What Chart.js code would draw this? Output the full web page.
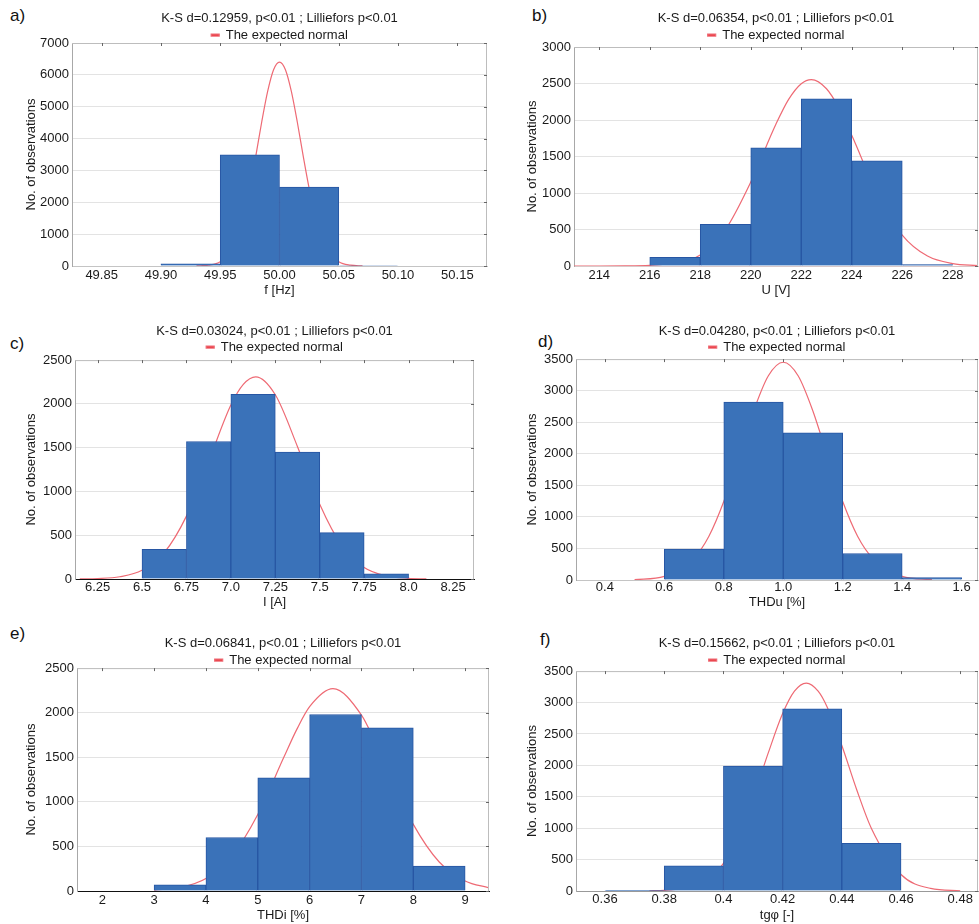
<!DOCTYPE html>
<html>
<head>
<meta charset="utf-8">
<script src="https://cdn.jsdelivr.net/npm/chart.js@4.4.1/dist/chart.umd.min.js"></script>
<style>
  html, body { margin: 0; padding: 0; background: #fff; }
  #page { position: relative; width: 979px; height: 924px; overflow: hidden; font-family: 'Liberation Sans', Arial, sans-serif; }
  .tag { position: absolute; font-size: 17px; line-height: 17px; color: #111; }
  canvas { position: absolute; }
</style>
</head>
<body>
<div id="page"></div>
<script>
// a) frequency
const aEdges = [49.85, 49.90, 49.95, 50.00, 50.05, 50.10, 50.15];
const aCounts = [0, 70, 3490, 2480, 15, 0];
const aCurveX = [49.93, 49.94, 49.95, 49.96, 49.965, 49.97, 49.975, 49.98, 49.985, 49.99, 49.995, 50.00,
                 50.005, 50.01, 50.015, 50.02, 50.025, 50.03, 50.035, 50.04, 50.05, 50.06, 50.07];
const aCurveY = [3, 25, 135, 545, 970, 1600, 2440, 3450, 4520, 5480, 6160, 6400,
                 6160, 5480, 4520, 3450, 2440, 1600, 970, 545, 135, 25, 3];
const aXTicks = [49.85, 49.90, 49.95, 50.00, 50.05, 50.10, 50.15];
const aXLabels = ['49.85', '49.90', '49.95', '50.00', '50.05', '50.10', '50.15'];
const aYTicks = [0, 1000, 2000, 3000, 4000, 5000, 6000, 7000];

// b) voltage
const bEdges = [214, 216, 218, 220, 222, 224, 226, 228];
const bCounts = [0, 120, 570, 1620, 2290, 1440, 20];
const bCurveX = [213, 214, 215, 216, 217, 218, 219, 220, 221, 221.5, 222, 222.4, 223, 223.5, 224, 225, 226, 227, 228, 229];
const bCurveY = [0, 0, 1, 9, 45, 150, 500, 1150, 1945, 2282, 2497, 2553, 2428, 2160, 1790, 1000, 424, 136, 33, 6];
const bXTicks = [214, 216, 218, 220, 222, 224, 226, 228];
const bXLabels = ['214', '216', '218', '220', '222', '224', '226', '228'];
const bYTicks = [0, 500, 1000, 1500, 2000, 2500, 3000];

// c) current
const cEdges = [6.25, 6.5, 6.75, 7.0, 7.25, 7.5, 7.75, 8.0, 8.25];
const cCounts = [0, 340, 1570, 2110, 1450, 530, 60, 0];
const cCurveX = [6.15, 6.25, 6.375, 6.5, 6.625, 6.75, 6.875, 7.0, 7.07, 7.14, 7.25, 7.375, 7.5, 7.625, 7.75, 7.875, 8.0, 8.1];
const cCurveY = [1, 5, 26, 99, 300, 718, 1343, 1986, 2223, 2309, 2104, 1511, 855, 379, 132, 36, 8, 1];
const cXTicks = [6.25, 6.5, 6.75, 7.0, 7.25, 7.5, 7.75, 8.0, 8.25];
const cXLabels = ['6.25', '6.5', '6.75', '7.0', '7.25', '7.5', '7.75', '8.0', '8.25'];
const cYTicks = [0, 500, 1000, 1500, 2000, 2500];

// d) THDu
const dEdges = [0.4, 0.6, 0.8, 1.0, 1.2, 1.4, 1.6];
const dCounts = [0, 490, 2820, 2330, 420, 40];
const dCurveX = [0.5, 0.6, 0.7, 0.75, 0.8, 0.85, 0.9, 0.95, 1.0, 1.05, 1.1, 1.15, 1.2, 1.25, 1.3, 1.4, 1.5];
const dCurveY = [6, 58, 350, 694, 1243, 1943, 2674, 3236, 3450, 3236, 2674, 1943, 1243, 694, 350, 58, 6];
const dXTicks = [0.4, 0.6, 0.8, 1.0, 1.2, 1.4, 1.6];
const dXLabels = ['0.4', '0.6', '0.8', '1.0', '1.2', '1.4', '1.6'];
const dYTicks = [0, 500, 1000, 1500, 2000, 2500, 3000, 3500];

// e) THDi
const eEdges = [2, 3, 4, 5, 6, 7, 8, 9];
const eCounts = [0, 70, 600, 1270, 1980, 1830, 280];
const eCurveX = [3.0, 3.5, 4.0, 4.5, 5.0, 5.5, 5.75, 6.0, 6.45, 7.0, 7.25, 7.5, 8.0, 8.5, 9.0, 9.46];
const eCurveY = [9, 40, 141, 391, 858, 1496, 1810, 2068, 2270, 1973, 1689, 1364, 747, 325, 113, 35];
const eXTicks = [2, 3, 4, 5, 6, 7, 8, 9];
const eXLabels = ['2', '3', '4', '5', '6', '7', '8', '9'];
const eYTicks = [0, 500, 1000, 1500, 2000, 2500];

// f) tg phi
const fEdges = [0.36, 0.38, 0.40, 0.42, 0.44, 0.46, 0.48];
const fCounts = [5, 400, 1990, 2900, 760, 0];
const fCurveX = [0.375, 0.38, 0.39, 0.40, 0.41, 0.415, 0.42, 0.424, 0.428, 0.432, 0.435, 0.44, 0.445, 0.45, 0.46, 0.47, 0.48];
const fCurveY = [3, 11, 92, 440, 1479, 2178, 2824, 3181, 3310, 3181, 2933, 2317, 1616, 996, 263, 41, 4];
const fXTicks = [0.36, 0.38, 0.40, 0.42, 0.44, 0.46, 0.48];
const fXLabels = ['0.36', '0.38', '0.4', '0.42', '0.44', '0.46', '0.48'];
const fYTicks = [0, 500, 1000, 1500, 2000, 2500, 3000, 3500];

const legendLabel = 'The expected normal';
const yTitle = 'No. of observations';

const panels = [
  { tag: 'a)', title: 'K-S d=0.12959, p<0.01 ; Lilliefors p<0.01', xTitle: 'f [Hz]',
    edges: aEdges, counts: aCounts, cx: aCurveX, cy: aCurveY, xt: aXTicks, xl: aXLabels, yt: aYTicks, xMin: 49.825, xMax: 50.175 },
  { tag: 'b)', title: 'K-S d=0.06354, p<0.01 ; Lilliefors p<0.01', xTitle: 'U [V]',
    edges: bEdges, counts: bCounts, cx: bCurveX, cy: bCurveY, xt: bXTicks, xl: bXLabels, yt: bYTicks, xMin: 213, xMax: 229 },
  { tag: 'c)', title: 'K-S d=0.03024, p<0.01 ; Lilliefors p<0.01', xTitle: 'I [A]',
    edges: cEdges, counts: cCounts, cx: cCurveX, cy: cCurveY, xt: cXTicks, xl: cXLabels, yt: cYTicks, xMin: 6.123, xMax: 8.368 },
  { tag: 'd)', title: 'K-S d=0.04280, p<0.01 ; Lilliefors p<0.01', xTitle: 'THDu [%]',
    edges: dEdges, counts: dCounts, cx: dCurveX, cy: dCurveY, xt: dXTicks, xl: dXLabels, yt: dYTicks, xMin: 0.303, xMax: 1.655 },
  { tag: 'e)', title: 'K-S d=0.06841, p<0.01 ; Lilliefors p<0.01', xTitle: 'THDi [%]',
    edges: eEdges, counts: eCounts, cx: eCurveX, cy: eCurveY, xt: eXTicks, xl: eXLabels, yt: eYTicks, xMin: 1.513, xMax: 9.46 },
  { tag: 'f)', title: 'K-S d=0.15662, p<0.01 ; Lilliefors p<0.01', xTitle: 'tg\u03c6 [-]',
    edges: fEdges, counts: fCounts, cx: fCurveX, cy: fCurveY, xt: fXTicks, xl: fXLabels, yt: fYTicks, xMin: 0.3502, xMax: 0.486 }
];

// where each panel sits on the page and how its boxes are sized
const boxes = [
  { left: 0,   top: 0,   w: 490, h: 300, tagAt: [10, 7],   pl: 20, pr: 3,  yw: 52, xh: 34, tTop: 11, tBot: 2, legH: 14.4, tickPad: 2,   xtPad: 2, axis: '#c4c4c4' },
  { left: 490, top: 0,   w: 489, h: 300, tagAt: [532, 7],  pl: 31, pr: 1,  yw: 53, xh: 34, tTop: 11, tBot: 2, legH: 18.4, tickPad: 2,   xtPad: 2, axis: '#d8c8c8' },
  { left: 0,   top: 300, w: 490, h: 310, tagAt: [10, 335], pl: 20, pr: 16, yw: 55, xh: 31, tTop: 24, tBot: 1, legH: 19.5, tickPad: 1,   xtPad: 0, axis: '#111' },
  { left: 490, top: 300, w: 489, h: 310, tagAt: [538, 333], pl: 31, pr: 1, yw: 55, xh: 30, tTop: 24, tBot: 1, legH: 18.5, tickPad: 0,   xtPad: 0, axis: '#c4c4c4' },
  { left: 0,   top: 610, w: 490, h: 314, tagAt: [10, 625], pl: 20, pr: 1,  yw: 57, xh: 33, tTop: 26, tBot: 2, legH: 14.5, tickPad: 1.5, xtPad: 1, axis: '#111' },
  { left: 490, top: 610, w: 489, h: 314, tagAt: [540, 631], pl: 31, pr: 1, yw: 55, xh: 33, tTop: 26, tBot: 2, legH: 17.5, tickPad: 1,   xtPad: 1, axis: '#999' }
];

Chart.defaults.font.family = "'Liberation Sans', Arial, sans-serif";
Chart.defaults.font.size = 13;
Chart.defaults.color = '#1a1a1a';

// top/right frame with small inner tick marks
const framePlugin = {
  id: 'frame',
  afterDraw(chart) {
    const { ctx, chartArea: a, scales: { x, y } } = chart;
    ctx.save();
    ctx.lineWidth = 1;
    ctx.strokeStyle = '#bdbdbd';
    ctx.beginPath();
    ctx.moveTo(a.left, a.top + 0.5);
    ctx.lineTo(a.right - 0.5, a.top + 0.5);
    ctx.lineTo(a.right - 0.5, a.bottom);
    ctx.stroke();
    ctx.strokeStyle = '#666';
    ctx.beginPath();
    x.ticks.forEach(t => {
      const px = Math.round(x.getPixelForValue(t.value)) + 0.5;
      ctx.moveTo(px, a.top);
      ctx.lineTo(px, a.top + 3);
    });
    y.ticks.forEach(t => {
      const py = Math.round(y.getPixelForValue(t.value)) + 0.5;
      ctx.moveTo(a.right, py);
      ctx.lineTo(a.right - 3, py);
    });
    ctx.stroke();
    ctx.restore();
  }
};

const page = document.getElementById('page');

panels.forEach((p, i) => {
  const b = boxes[i];

  const tag = document.createElement('div');
  tag.className = 'tag';
  tag.textContent = p.tag;
  tag.style.left = b.tagAt[0] + 'px';
  tag.style.top = b.tagAt[1] + 'px';
  page.appendChild(tag);

  const canvas = document.createElement('canvas');
  canvas.width = b.w;
  canvas.height = b.h;
  canvas.style.left = b.left + 'px';
  canvas.style.top = b.top + 'px';
  canvas.style.width = b.w + 'px';
  canvas.style.height = b.h + 'px';
  page.appendChild(canvas);

  const bars = p.counts.map((c, k) => ({ x: (p.edges[k] + p.edges[k + 1]) / 2, y: c }));
  const curve = p.cx.map((x, k) => ({ x, y: p.cy[k] }));

  new Chart(canvas.getContext('2d'), {
    type: 'bar',
    data: {
      datasets: [
        {
          label: 'bins',
          data: bars,
          backgroundColor: '#3a72b9',
          borderColor: '#2756a3',
          borderWidth: 1,
          borderSkipped: 'bottom',
          barPercentage: 1,
          categoryPercentage: 1
        },
        {
          label: legendLabel,
          type: 'line',
          data: curve,
          borderColor: '#ee6a74',
          backgroundColor: '#e8262a',
          borderWidth: 1.2,
          pointRadius: 0,
          fill: false,
          cubicInterpolationMode: 'monotone'
        }
      ]
    },
    options: {
      responsive: false,
      animation: false,
      events: [],
      layout: { padding: { left: b.pl, right: b.pr, top: 0, bottom: 0 } },
      plugins: {
        title: {
          display: true,
          text: p.title,
          fullSize: false,
          font: { size: 13, weight: 'normal' },
          padding: { top: b.tTop, bottom: b.tBot }
        },
        legend: {
          display: true,
          fullSize: false,
          maxHeight: b.legH,
          labels: {
            boxWidth: 8,
            boxHeight: 2,
            padding: 0,
            font: { size: 13 },
            filter: item => item.datasetIndex === 1
          }
        },
        tooltip: { enabled: false }
      },
      scales: {
        x: {
          type: 'linear',
          min: p.xMin,
          max: p.xMax,
          offset: false,
          afterFit: s => { s.height = b.xh; },
          afterBuildTicks: s => { s.ticks = p.xt.map(v => ({ value: v })); },
          grid: { display: false, drawTicks: false, offset: false },
          border: { display: true, color: b.axis, width: 1 },
          ticks: {
            autoSkip: false,
            maxRotation: 0,
            padding: b.tickPad,
            callback: (v, k) => p.xl[k]
          },
          title: { display: true, text: p.xTitle, font: { size: 13 }, padding: { top: 0, bottom: b.xtPad } }
        },
        y: {
          min: p.yt[0],
          max: p.yt[p.yt.length - 1],
          afterFit: s => { s.width = b.yw; },
          afterBuildTicks: s => { s.ticks = p.yt.map(v => ({ value: v })); },
          grid: { color: '#e3e3e3', drawTicks: false },
          border: { display: true, color: '#a8a8a8', width: 1 },
          ticks: { padding: 3, callback: v => String(v) },
          title: { display: true, text: yTitle, font: { size: 13 }, padding: { top: 4, bottom: 4 } }
        }
      }
    },
    plugins: [framePlugin]
  });
});
</script>
</body>
</html>
